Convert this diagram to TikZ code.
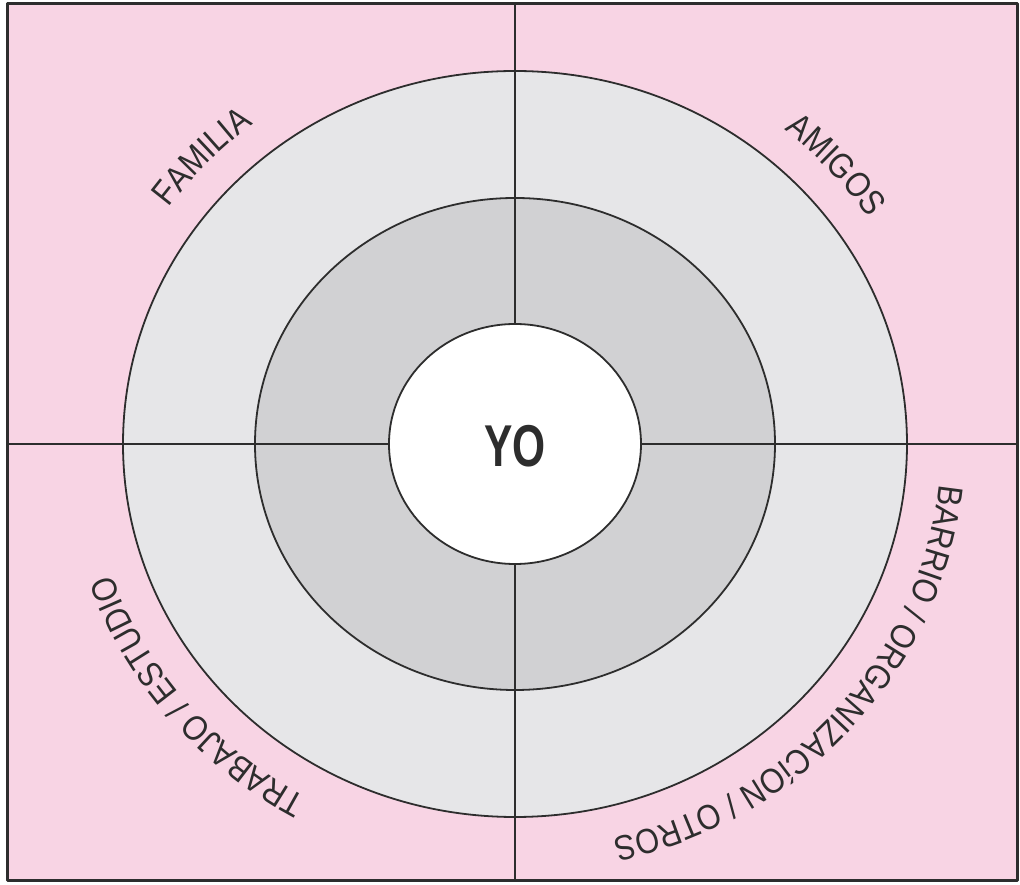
\documentclass[tikz,border=0pt]{standalone}
\usepackage{fontspec}
\usetikzlibrary{decorations.text}
\newfontfamily\ringfont{Liberation Sans}[FakeStretch=0.875]
\newfontfamily\yofont{Liberation Sans}[FakeStretch=0.72]
\definecolor{bgpink}{RGB}{248,212,228}
\definecolor{ringout}{RGB}{230,230,232}
\definecolor{ringmid}{RGB}{209,209,211}
\definecolor{inkc}{RGB}{45,45,45}

\begin{document}
\begin{tikzpicture}[x=1pt,y=1pt,line join=round,
    ring/.style={draw=inkc,line width=1.8},
    ringlbl/.style={decorate,decoration={text along path,text align=center,
      text={|\ringfont\fontsize{35}{40}\selectfont\color{inkc}|#1}}}]
  \useasboundingbox (-515,-441) rectangle (505,444);
  % frame and rings
  \draw[fill=bgpink,draw=inkc,line width=3] (-507,-436) rectangle (502,440);
  \draw[ring,fill=ringout] (0,0) ellipse[x radius=392,y radius=373];
  \draw[ring,fill=ringmid] (0,0) ellipse[x radius=260,y radius=246];
  \coordinate (top) at (0,440); \coordinate (bot) at (0,-436);
  \coordinate (lft) at (-507,0); \coordinate (rgt) at (502,0);
  \draw[ring] (top) -- (bot); \draw[ring] (lft) -- (rgt);
  \draw[ring,fill=white] (0,0) ellipse[x radius=126,y radius=120];
  \node[font=\yofont\bfseries\fontsize{59}{60}\selectfont,text=inkc] (yo) at (0,-2) {YO};
  % labels round the outer ring
  \path[ringlbl={FAMILIA}] (176.7:426 and 405) arc[start angle=176.7,end angle=96.7,x radius=426,y radius=405];
  \path[ringlbl={AMIGOS}] (81.8:426 and 405) arc[start angle=81.8,end angle=1.8,x radius=426,y radius=405];
  \path[ringlbl={BARRIO / ORGANIZACíON / OTROS}] (3:426 and 405) arc[start angle=3,end angle=-85,x radius=426,y radius=405];
  \path[ringlbl={TRABAJO / ESTUDIO}] (259.4:426 and 405) arc[start angle=259.4,end angle=179.4,x radius=426,y radius=405];
\end{tikzpicture}
\end{document}
